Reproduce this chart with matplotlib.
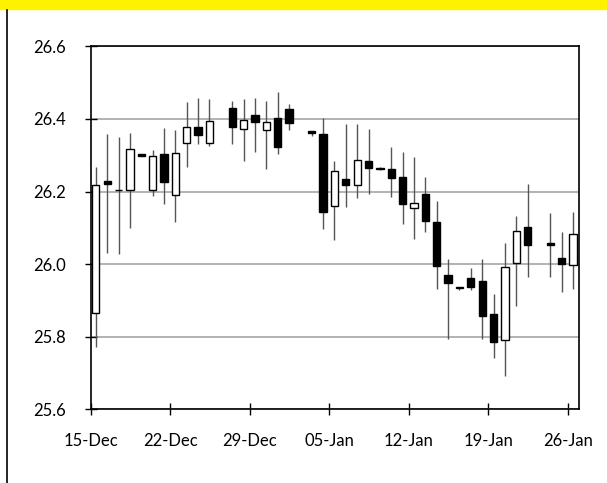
"""
Daily candlestick chart, 15-Dec to 26-Jan
"""

import matplotlib
matplotlib.use("Agg")
import matplotlib.pyplot as plt
import matplotlib.dates as mdates
import pandas as pd

OUT_PATH = "out.png"
BODY_WIDTH = 0.64  # days
FONT = "Lato"

# Trading days (26-Dec, 02-Jan and 23-Jan have no candle)
DAYS = ["2019-12-15", "2019-12-16", "2019-12-17", "2019-12-18", "2019-12-19",
        "2019-12-20", "2019-12-21", "2019-12-22", "2019-12-23", "2019-12-24",
        "2019-12-25", "2019-12-27", "2019-12-28", "2019-12-29", "2019-12-30",
        "2019-12-31", "2020-01-01", "2020-01-03", "2020-01-04", "2020-01-05",
        "2020-01-06", "2020-01-07", "2020-01-08", "2020-01-09", "2020-01-10",
        "2020-01-11", "2020-01-12", "2020-01-13", "2020-01-14", "2020-01-15",
        "2020-01-16", "2020-01-17", "2020-01-18", "2020-01-19", "2020-01-20",
        "2020-01-21", "2020-01-22", "2020-01-24", "2020-01-25", "2020-01-26"]
OPEN = [25.866, 26.228, 26.205, 26.203, 26.302, 26.203, 26.302, 26.190, 26.334, 26.379,
        26.333, 26.429, 26.373, 26.410, 26.369, 26.402, 26.426, 26.366, 26.358, 26.159,
        26.235, 26.219, 26.284, 26.266, 26.263, 26.239, 26.155, 26.192, 26.117, 25.970,
        25.934, 25.961, 25.953, 25.863, 25.791, 26.004, 26.101, 26.057, 26.017, 25.997]
HIGH = [26.267, 26.358, 26.350, 26.362, 26.304, 26.314, 26.374, 26.369, 26.446, 26.457,
        26.454, 26.449, 26.454, 26.457, 26.450, 26.475, 26.441, 26.366, 26.402, 26.283,
        26.387, 26.387, 26.371, 26.267, 26.323, 26.308, 26.295, 26.240, 26.173, 26.013,
        25.938, 25.988, 26.013, 25.918, 26.057, 26.133, 26.220, 26.140, 26.088, 26.144]
LOW = [25.771, 26.031, 26.027, 26.100, 26.297, 26.189, 26.166, 26.115, 26.267, 26.330,
       26.325, 26.330, 26.285, 26.309, 26.261, 26.302, 26.369, 26.354, 26.096, 26.067,
       26.158, 26.181, 26.194, 26.260, 26.186, 26.111, 26.068, 26.088, 25.932, 25.795,
       25.929, 25.929, 25.795, 25.742, 25.692, 25.885, 25.964, 25.964, 25.924, 25.931]
CLOSE = [26.218, 26.222, 26.203, 26.318, 26.298, 26.298, 26.226, 26.307, 26.379, 26.357,
         26.393, 26.378, 26.397, 26.392, 26.392, 26.322, 26.390, 26.362, 26.143, 26.256,
         26.218, 26.287, 26.266, 26.262, 26.237, 26.166, 26.167, 26.119, 25.996, 25.949,
         25.938, 25.937, 25.857, 25.786, 25.993, 26.092, 26.052, 26.053, 26.000, 26.084]

X_START = "2019-12-15"
X_END = "2020-01-27"
TICK_DAYS = ["2019-12-15", "2019-12-22", "2019-12-29", "2020-01-05",
             "2020-01-12", "2020-01-19", "2020-01-26"]
Y_TICKS = [25.6, 25.8, 26.0, 26.2, 26.4, 26.6]

plt.rcParams["font.family"] = [FONT, "DejaVu Sans"]

fig = plt.figure(figsize=(6.07, 4.83), dpi=100)
ax = fig.add_axes([0.1494, 0.1526, 0.805, 0.7515])

# Each candle sits in the middle of its day, between tick marks
xs = mdates.date2num(pd.to_datetime(DAYS)) + 0.45
for x, o, h, l, c in zip(xs, OPEN, HIGH, LOW, CLOSE):
    ax.vlines(x, l, h, color="#555555", linewidth=1.0, zorder=2)
    fill = "white" if c >= o else "black"
    ax.bar(x, max(abs(c - o), 0.002), bottom=min(o, c), width=BODY_WIDTH,
           color=fill, edgecolor="black", linewidth=1.0, zorder=3)

ax.set_xlim(mdates.date2num(pd.Timestamp(X_START)), mdates.date2num(pd.Timestamp(X_END)))
ax.set_ylim(Y_TICKS[0], Y_TICKS[-1])
ax.set_xticks(mdates.date2num(pd.to_datetime(TICK_DAYS)))
ax.xaxis.set_major_formatter(mdates.DateFormatter("%d-%b"))
ax.set_yticks(Y_TICKS)
ax.yaxis.set_major_formatter(plt.FormatStrFormatter("%.1f"))

ax.yaxis.grid(True, color="#a6a6a6", linewidth=1.2)
ax.set_axisbelow(True)
for spine in ax.spines.values():
    spine.set_linewidth(1.2)
ax.tick_params(axis="both", direction="inout", length=8, width=1.0,
               labelsize=12, colors="black")
ax.tick_params(axis="x", pad=13)
ax.tick_params(axis="y", pad=14)

# Yellow title band (cut off at the top) and the page rule on the left
fig.patches.append(plt.Rectangle((0, 1 - 9 / 483), 1, 9 / 483, transform=fig.transFigure,
                                 color="#fff200", zorder=0))
fig.lines.append(plt.Line2D([6.5 / 607, 6.5 / 607], [0, 1 - 10 / 483],
                            transform=fig.transFigure, color="black", linewidth=1.2))

fig.savefig(OUT_PATH, dpi=100)
